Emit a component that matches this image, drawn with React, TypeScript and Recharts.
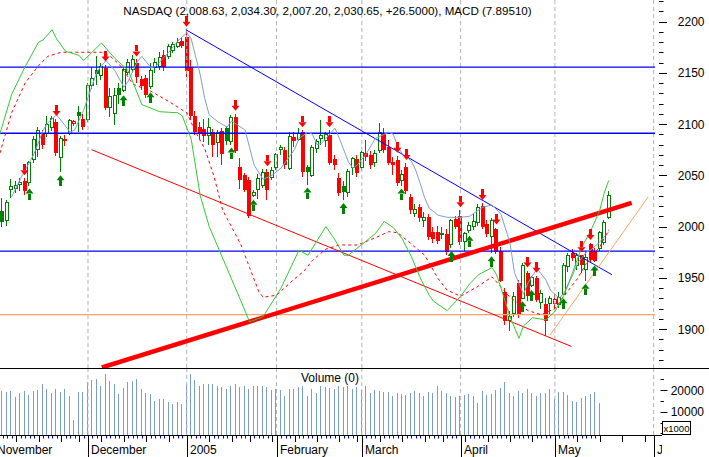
import React from "react";
import { ComposedChart, Bar, Line, Scatter, XAxis, YAxis, ReferenceLine } from "recharts";

const FONT = '"Liberation Sans", Arial, Helvetica, sans-serif';

const GREEN = "#008000";
const RED = "#ff0000";
const MACD_GREEN = "#35c835";
const MA_BLUE = "#7f9fcb";
const LINE_BLUE = "#0000ff";
const ORANGE = "#ffa466";
const MONTH_GREY = "#b4b4b4";
const VOLUME_BLUE = "#7b9dcd";

const X_DOMAIN = [1.4, 147.3];
const PRICE_DOMAIN = [1862, 2221];
const VOLUME_DOMAIN = [-700, 30200];

// trading-day index of the first candle (Nov 3, 2004)
const firstIndex = 2;

const opens = [
  2015, 2006, 2036, 2037, 2041, 2044, 2043, 2065, 2075, 2090, 2091, 2097, 2102, 2067, 2084, 2091, 2101, 2112, 2105,
  2104, 2138, 2153, 2147, 2155, 2116, 2110, 2135, 2133, 2150, 2153, 2160, 2144, 2145, 2137, 2155, 2156, 2167, 2166, 2172, 2176, 2181,
  2185, 2156, 2108, 2097, 2095, 2089, 2092, 2082, 2093, 2096, 2083, 2107, 2058, 2050, 2045, 2030, 2036, 2040, 2053, 2048,
  2058, 2075, 2075, 2057, 2087, 2085, 2092, 2058, 2050, 2076, 2086, 2084, 2089, 2066, 2047, 2040, 2033, 2058, 2066,
  2058, 2072, 2070, 2062, 2074, 2091, 2078, 2063, 2065, 2045, 2058, 2029, 2013, 2019, 2006, 2009, 1995, 1995, 1994, 1993, 1982, 2007,
  2010, 1985, 1996, 2000, 2004, 2020, 2002, 1990, 1998, 1976, 1936, 1908, 1915, 1945, 1930, 1955, 1942, 1950, 1926, 1924, 1925,
  1925, 1924, 1934, 1961, 1974, 1962, 1972, 1958, 1983, 1976, 1979, 1984, 2008.63,
];
const highs = [
  2028, 2026, 2046, 2044, 2047, 2047, 2064, 2088, 2097, 2094, 2108, 2108, 2105, 2088, 2089, 2105, 2104, 2118, 2110,
  2140, 2156, 2166, 2160, 2158, 2135, 2135, 2140, 2155, 2163, 2167, 2163, 2147, 2148, 2160, 2164, 2170, 2172, 2178, 2180, 2184, 2185,
  2192, 2162, 2113, 2102, 2105, 2106, 2095, 2094, 2096, 2098, 2109, 2110, 2067, 2052, 2048, 2036, 2051, 2056, 2056, 2058,
  2072, 2080, 2078, 2092, 2092, 2096, 2094, 2060, 2080, 2085, 2104, 2092, 2094, 2070, 2052, 2044, 2056, 2068, 2070,
  2074, 2084, 2074, 2075, 2101, 2096, 2084, 2068, 2069, 2055, 2062, 2032, 2022, 2022, 2014, 2012, 2000, 2001, 2000, 1998, 2007, 2010,
  2016, 1995, 2004, 2012, 2022, 2023, 2006, 2008, 1999, 1980, 1940, 1918, 1936, 1948, 1964, 1957, 1952, 1952, 1938, 1930, 1932,
  1934, 1936, 1964, 1974, 1978, 1974, 1972, 1975, 1984, 1979, 1996, 2006, 2034.3,
];
const lows = [
  2000, 2001, 2028, 2033, 2035, 2031, 2040, 2062, 2068, 2076, 2087, 2093, 2069, 2053, 2079, 2089, 2098, 2092, 2094,
  2102, 2134, 2138, 2143, 2114, 2107, 2099, 2120, 2131, 2148, 2151, 2140, 2133, 2125, 2134, 2150, 2153, 2152, 2163, 2169, 2174, 2174,
  2146, 2104, 2089, 2085, 2082, 2080, 2068, 2068, 2060, 2080, 2080, 2072, 2037, 2034, 2008, 2029, 2027, 2038, 2026, 2045,
  2055, 2070, 2056, 2055, 2078, 2083, 2048, 2041, 2048, 2072, 2080, 2078, 2060, 2055, 2030, 2026, 2029, 2050, 2048,
  2055, 2064, 2056, 2058, 2072, 2072, 2060, 2050, 2040, 2040, 2032, 2012, 2009, 2004, 2000, 1987, 1984, 1983, 1988, 1972, 1979, 1998,
  1982, 1976, 1994, 1997, 2001, 1998, 1990, 1974, 1973, 1946, 1904, 1898, 1912, 1911, 1930, 1927, 1941, 1926, 1920, 1893, 1915,
  1920, 1921, 1933, 1956, 1966, 1958, 1955, 1947, 1964, 1965, 1976, 1982, 2007.2,
];
const closes = [
  2004, 2023, 2039, 2040, 2043, 2035, 2062, 2085, 2094, 2080, 2100, 2105, 2072, 2086, 2085, 2103, 2102, 2108, 2097,
  2138, 2144, 2149, 2156, 2116, 2127, 2128, 2128, 2153, 2160, 2163, 2146, 2137, 2128, 2152, 2160, 2165, 2156, 2176, 2178, 2180, 2176,
  2152, 2108, 2092, 2091, 2088, 2097, 2080, 2092, 2071, 2083, 2106, 2074, 2045, 2036, 2010, 2033, 2047, 2053, 2036, 2055,
  2070, 2077, 2060, 2088, 2083, 2091, 2053, 2053, 2077, 2083, 2089, 2090, 2062, 2060, 2033, 2034, 2054, 2066, 2052,
  2072, 2068, 2060, 2071, 2092, 2075, 2062, 2060, 2042, 2051, 2035, 2016, 2017, 2008, 2009, 1990, 1988, 1986, 1992, 1975, 2006, 2000,
  1985, 1993, 2001, 2005, 2019, 2000, 1993, 2006, 1975, 1947, 1908, 1912, 1932, 1914, 1962, 1932, 1950, 1928, 1935, 1908, 1930,
  1929, 1931, 1962, 1972, 1969, 1972, 1962, 1970, 1967, 1966, 1994, 2004.15, 2030.65,
];
// volume in units of 1000 shares, same start index; the last two days have none
const volumes = [
  19500, 19000, 19800, 16800, 18700, 19500, 17900, 19500, 20000, 23000, 20600, 18700, 20600, 19000, 20300, 17200, 6400, 19000, 19200,
  23700, 24600, 24900, 22100, 27600, 24100, 23000, 18400, 21000, 23700, 24100, 24900, 20600, 18700, 18000, 14900, 15700, 15900, 14400, 13800, 14600, 13500,
  22600, 27600, 24600, 22100, 22600, 23000, 22600, 21800, 21500, 20600, 22100, 23000, 21500, 21800, 20600, 21800, 21800, 21800, 21500, 20000,
  20300, 20000, 17500, 20600, 20300, 21500, 22100, 17500, 20300, 18700, 21800, 21500, 21000, 20600, 21800, 21500, 22100, 20300, 21500,
  20000, 21800, 18700, 20000, 19500, 19000, 19000, 17200, 18700, 18400, 17900, 18700, 19500, 18700, 17200, 19000, 18700, 21800, 19500, 18700, 17200, 16900,
  17500, 17900, 18400, 17500, 14100, 19500, 17900, 18400, 20000, 21000, 23700, 18700, 17200, 19500, 18700, 20600, 18700, 17200, 18500, 18800, 20500,
  15900, 19300, 19300, 17800, 15200, 14400, 16200, 17100, 18200, 19000, 13900, 0, 0,
];

const sellSignals = [7, 14, 25, 32, 43, 54, 61, 69, 75, 90, 92, 104, 109, 112, 119, 121, 131, 133];
const buySignals = [8, 15, 29, 35, 53, 58, 70, 78, 91, 102, 106, 111, 118, 120, 127, 132, 134];

// MACD and its signal line, drawn on the price scale: [day index, value]
const macdPoints = [
  [1, 2085], [4, 2129], [7, 2156], [10, 2180], [11, 2182], [13, 2192], [14, 2183], [16, 2171], [19, 2167], [20, 2162],
  [24, 2179], [27, 2164], [30, 2152], [33, 2119], [37, 2112], [41, 2111], [42, 2108], [44, 2085], [46, 2030], [48, 2000],
  [55, 1928], [57, 1907], [60, 1912], [64, 1940], [68, 1977], [70, 1972], [74, 2000], [76, 1987], [78, 1972], [79, 1972],
  [83, 1986], [85, 1993], [87, 2005], [89, 1999], [91, 1988], [93, 1971], [95, 1950], [97, 1933], [98, 1927], [101, 1918],
  [104, 1932], [106, 1944], [108, 1953], [111, 1960], [112, 1953], [113, 1940], [115, 1912], [117, 1891], [118, 1903],
  [120, 1911], [123, 1909], [125, 1917], [127, 1933], [128, 1944], [131, 1980], [133, 1996], [135, 2016], [136, 2033], [137, 2045],
];
const signalPoints = [
  [1, 2066], [4, 2111], [7, 2140], [10, 2157], [12, 2166], [15, 2170], [18, 2170], [24, 2170], [26, 2166], [28, 2158],
  [31, 2139], [35, 2132], [39, 2122], [43, 2111], [45, 2092], [47, 2076], [49, 2050], [51, 2016], [55, 1983], [57, 1960],
  [59, 1937], [60, 1931], [63, 1933], [64, 1937], [67, 1949], [69, 1956], [71, 1967], [74, 1978], [77, 1982], [81, 1982],
  [85, 1989], [88, 1995], [90, 1994], [93, 1983], [96, 1972], [99, 1949], [101, 1938], [104, 1932], [108, 1942], [111, 1951],
  [115, 1931], [119, 1918], [122, 1914], [125, 1920], [127, 1932], [130, 1949], [132, 1964], [135, 1980], [137, 1997],
];
// short moving average (steel blue)
const averagePoints = [
  [4, 2029], [6, 2047], [9, 2071], [11, 2094], [12, 2101], [14, 2109], [16, 2098], [17, 2092], [18, 2094], [20, 2113],
  [21, 2126], [23, 2151], [25, 2162], [27, 2152], [29, 2136], [30, 2142], [32, 2161], [33, 2166], [35, 2155], [36, 2156],
  [39, 2170], [41, 2181], [43, 2189], [44, 2183], [46, 2148], [47, 2125], [48, 2109], [50, 2102], [52, 2097], [53, 2103],
  [54, 2100], [56, 2094], [57, 2077], [58, 2060], [60, 2046], [62, 2050], [64, 2057], [67, 2075], [68, 2086], [70, 2092],
  [71, 2090], [72, 2080], [73, 2081], [75, 2091], [76, 2096], [77, 2086], [79, 2063], [80, 2057], [81, 2060], [83, 2071],
  [85, 2086], [88, 2092], [89, 2090], [90, 2078], [91, 2071], [93, 2064], [94, 2055], [95, 2042], [96, 2028], [97, 2018],
  [99, 2011], [101, 2009], [104, 2009], [106, 2010], [109, 2019], [111, 2021], [113, 2012], [115, 1984], [116, 1955],
  [118, 1934], [119, 1945], [121, 1959], [123, 1948], [124, 1938], [126, 1930], [127, 1935], [129, 1953], [130, 1964],
  [132, 1975], [133, 1977], [135, 1985], [137, 1995],
];

// drawn studies: horizontal levels and trend lines [[day, price], [day, price]]
const blueLevels = [2155.5, 2091, 1976];
const orangeLevel = 1914;
const resistanceLine = [[42.8, 2192], [137.7, 1953]];
const channelLine = [[21.8, 2075], [128.7, 1883]];
const supportLine = [[24.1, 1862.5], [142.1, 2023]];
const reboundLine = [[123.9, 1894], [145.8, 2029]];

const months = [
  { i: 0, label: "November" },
  { i: 21, label: "December" },
  { i: 43, label: "2005" },
  { i: 63, label: "February" },
  { i: 82, label: "March" },
  { i: 104, label: "April" },
  { i: 125, label: "May" },
  { i: 147, label: "June" },
];
const weekStarts = [0, 5, 10, 15, 19, 24, 29, 34, 39, 43, 48, 53, 57, 62, 67, 72, 77, 81, 86, 91, 96, 100, 105, 110, 115, 120, 125, 130, 135, 140, 145];

const priceLabels = [1900, 1950, 2000, 2050, 2100, 2150, 2200];
const volumeLabels = [10000, 20000];
const volumeTicks = [0, 5000, 10000, 15000, 20000, 25000];

const title = "NASDAQ (2,008.63, 2,034.30, 2,007.20, 2,030.65, +26.5000), MACD (7.89510)";

const candleRows = closes.map((c, k) => ({
  i: firstIndex + k,
  o: opens[k],
  h: highs[k],
  l: lows[k],
  c,
  range: [lows[k], highs[k]],
  rising: k === 0 || c >= closes[k - 1],
}));

const volumeRows = volumes.map((v, k) => ({
  i: firstIndex + k,
  v,
  bar: v > 0 ? [VOLUME_DOMAIN[0], v] : null,
}));

const toSeries = (pts: number[][]) => pts.map(([i, v]) => ({ i, v }));
const macdData = toSeries(macdPoints);
const signalData = toSeries(signalPoints);
const averageData = toSeries(averagePoints);
const sellData = sellSignals.map((i) => ({ i, y: highs[i - firstIndex] }));
const buyData = buySignals.map((i) => ({ i, y: lows[i - firstIndex] }));

const priceTicks: number[] = [];
for (let v = 1870; v <= 2220; v += 10) priceTicks.push(v);

const dayTicks = volumeRows.filter((r) => r.v > 0).map((r) => r.i);
const timeTicks = Array.from(new Set([...dayTicks, ...weekStarts, ...months.map((m) => m.i)])).sort((a, b) => a - b);

const seg = (line: number[][]) => [
  { x: line[0][0], y: line[0][1] },
  { x: line[1][0], y: line[1][1] },
];

const CandleShape = (props: any) => {
  const { x, y, width, height, payload } = props;
  if (!payload || height == null || isNaN(y)) return null;
  const { o, h, l, c, rising } = payload;
  const k = h > l ? height / (h - l) : 0;
  const py = (v: number) => y + (h - v) * k;
  const cx = Math.round(x + width / 2);
  const color = rising ? GREEN : RED;
  const top = py(Math.max(o, c));
  const bodyH = Math.max(1, py(Math.min(o, c)) - top);
  return (
    <g shapeRendering="crispEdges">
      <line x1={cx - 0.5} x2={cx - 0.5} y1={py(h)} y2={py(l)} stroke={color} />
      {c > o ? (
        <rect x={cx - 1.5} y={top} width={3} height={bodyH} fill="#ffffff" stroke={color} />
      ) : (
        <rect x={cx - 2} y={top} width={4} height={bodyH} fill={color} />
      )}
    </g>
  );
};

const SellArrow = ({ cx, cy }: any) => {
  if (cx == null || cy == null) return null;
  const x = Math.round(cx) - 0.5;
  const tip = cy - 3;
  return (
    <g fill={RED}>
      <rect x={x - 1.5} y={tip - 11} width={3} height={6} shapeRendering="crispEdges" />
      <polygon points={`${x - 4},${tip - 5} ${x + 4},${tip - 5} ${x},${tip}`} />
    </g>
  );
};

const BuyArrow = ({ cx, cy }: any) => {
  if (cx == null || cy == null) return null;
  const x = Math.round(cx) - 0.5;
  const tip = cy + 3;
  return (
    <g fill={GREEN}>
      <rect x={x - 1.5} y={tip + 5} width={3} height={6} shapeRendering="crispEdges" />
      <polygon points={`${x - 4},${tip + 5} ${x + 4},${tip + 5} ${x},${tip}`} />
    </g>
  );
};

const VolumeShape = (props: any) => {
  const { x, y, width, height } = props;
  if (!height || height <= 0) return null;
  const cx = Math.round(x + width / 2);
  return <rect x={cx - 1} y={y} width={1} height={height} fill={VOLUME_BLUE} shapeRendering="crispEdges" />;
};

const PriceTick = ({ x, y, payload }: any) => {
  const v = payload.value;
  const major = priceLabels.includes(v);
  const Y = Math.round(y) + 0.5;
  return (
    <g>
      <line x1={x + 4} x2={x + (major ? 12 : 8.5)} y1={Y} y2={Y} stroke="#000" />
      {major && (
        <text x={x + 49.5} y={y + 4.5} textAnchor="end" fontSize={12} fontFamily={FONT} fill="#000">
          {v}
        </text>
      )}
    </g>
  );
};

const VolumeTick = ({ x, y, payload }: any) => {
  const v = payload.value;
  const major = volumeLabels.includes(v);
  const Y = Math.round(y) + 0.5;
  return (
    <g>
      <line x1={x + 5.5} x2={x + (major ? 12.5 : 9)} y1={Y} y2={Y} stroke="#000" />
      {major && (
        <text x={x + 49} y={y + 4.5} textAnchor="end" fontSize={12} fontFamily={FONT} fill="#000">
          {v}
        </text>
      )}
    </g>
  );
};

const TimeTick = ({ x, y, payload }: any) => {
  const v = payload.value;
  const X = Math.round(x) + 0.5;
  const month = months.find((m) => m.i === v);
  if (month) {
    return (
      <g>
        <line x1={X} x2={X} y1={y + 1} y2={y + 22} stroke="#000" />
        <svg x={0} y={y} width={662} height={22} overflow="hidden">
          <text x={X + 2.5} y={19} fontSize={12} fontFamily={FONT} fill="#000">
            {month.label}
          </text>
        </svg>
      </g>
    );
  }
  if (weekStarts.includes(v)) {
    return <line x1={X} x2={X} y1={y + 1} y2={y + 7} stroke="#000" />;
  }
  return <line x1={X} x2={X} y1={y + 1} y2={y + 3.5} stroke={LINE_BLUE} />;
};

export default function App() {
  return (
    <div style={{ position: "absolute", left: 0, top: 0, width: 709, height: 457, background: "#fff", fontFamily: FONT }}>
      <div style={{ position: "absolute", left: 0, top: 0 }}>
        <ComposedChart width={709} height={368} data={candleRows} margin={{ top: 0, right: 0, bottom: 0, left: 0 }}>
          <XAxis dataKey="i" type="number" domain={X_DOMAIN} allowDataOverflow hide />
          <YAxis
            orientation="right"
            width={54}
            type="number"
            domain={PRICE_DOMAIN}
            allowDataOverflow
            ticks={priceTicks}
            interval={0}
            tick={<PriceTick />}
            tickSize={0}
            tickMargin={0}
            tickLine={false}
            axisLine={false}
          />
          {months.map((m) => (
            <ReferenceLine key={m.i} x={m.i} stroke={MONTH_GREY} strokeDasharray="4 3" />
          ))}
          {blueLevels.map((v) => (
            <ReferenceLine key={v} y={v} stroke={LINE_BLUE} strokeWidth={1.3} />
          ))}
          <ReferenceLine y={orangeLevel} stroke={ORANGE} strokeWidth={1.2} />
          <Bar dataKey="range" barSize={4} shape={<CandleShape />} isAnimationActive={false} />
          <ReferenceLine segment={seg(channelLine)} stroke={RED} strokeWidth={1} />
          <ReferenceLine segment={seg(resistanceLine)} stroke={LINE_BLUE} strokeWidth={1} />
          <ReferenceLine segment={seg(reboundLine)} stroke={ORANGE} strokeWidth={1} />
          <ReferenceLine segment={seg(supportLine)} stroke={RED} strokeWidth={4.5} />
          <Line data={averageData} dataKey="v" stroke={MA_BLUE} strokeWidth={1} dot={false} activeDot={false} isAnimationActive={false} />
          <Line data={signalData} dataKey="v" stroke={RED} strokeWidth={1} strokeDasharray="3 3" dot={false} activeDot={false} isAnimationActive={false} />
          <Line data={macdData} dataKey="v" stroke={MACD_GREEN} strokeWidth={1} dot={false} activeDot={false} isAnimationActive={false} />
          <Scatter data={sellData} dataKey="y" shape={<SellArrow />} isAnimationActive={false} />
          <Scatter data={buyData} dataKey="y" shape={<BuyArrow />} isAnimationActive={false} />
        </ComposedChart>
      </div>
      <div style={{ position: "absolute", left: 0, top: 368 }}>
        <ComposedChart width={709} height={89} data={volumeRows} margin={{ top: 0, right: 0, bottom: 0, left: 0 }}>
          <XAxis
            dataKey="i"
            type="number"
            domain={X_DOMAIN}
            allowDataOverflow
            ticks={timeTicks}
            interval={0}
            tick={<TimeTick />}
            tickSize={0}
            tickMargin={0}
            tickLine={false}
            axisLine={false}
            height={22}
          />
          <YAxis
            orientation="right"
            width={54}
            type="number"
            domain={VOLUME_DOMAIN}
            allowDataOverflow
            ticks={volumeTicks}
            interval={0}
            tick={<VolumeTick />}
            tickSize={0}
            tickMargin={0}
            tickLine={false}
            axisLine={false}
          />
          {months.map((m) => (
            <ReferenceLine key={m.i} x={m.i} stroke={MONTH_GREY} strokeDasharray="4 3" />
          ))}
          <Bar dataKey="bar" barSize={2} shape={<VolumeShape />} isAnimationActive={false} />
        </ComposedChart>
      </div>
      <svg width={709} height={457} style={{ position: "absolute", left: 0, top: 0, pointerEvents: "none" }}>
        <line x1={0} x2={709} y1={368.5} y2={368.5} stroke="#000" />
        <line x1={0} x2={662} y1={435.5} y2={435.5} stroke="#000" />
        <rect x={662.5} y={421.5} width={28} height={13} fill="#fff" stroke="#000" />
        <text x={676.5} y={431.5} textAnchor="middle" fontSize={9.5} fontFamily={FONT} fill="#000">
          x1000
        </text>
        <text x={327.5} y={15} textAnchor="middle" fontSize={11.6} fontFamily={FONT} fill="#000">
          {title}
        </text>
        <text x={330} y={382} textAnchor="middle" fontSize={12} fontFamily={FONT} fill="#000">
          Volume (0)
        </text>
      </svg>
    </div>
  );
}
